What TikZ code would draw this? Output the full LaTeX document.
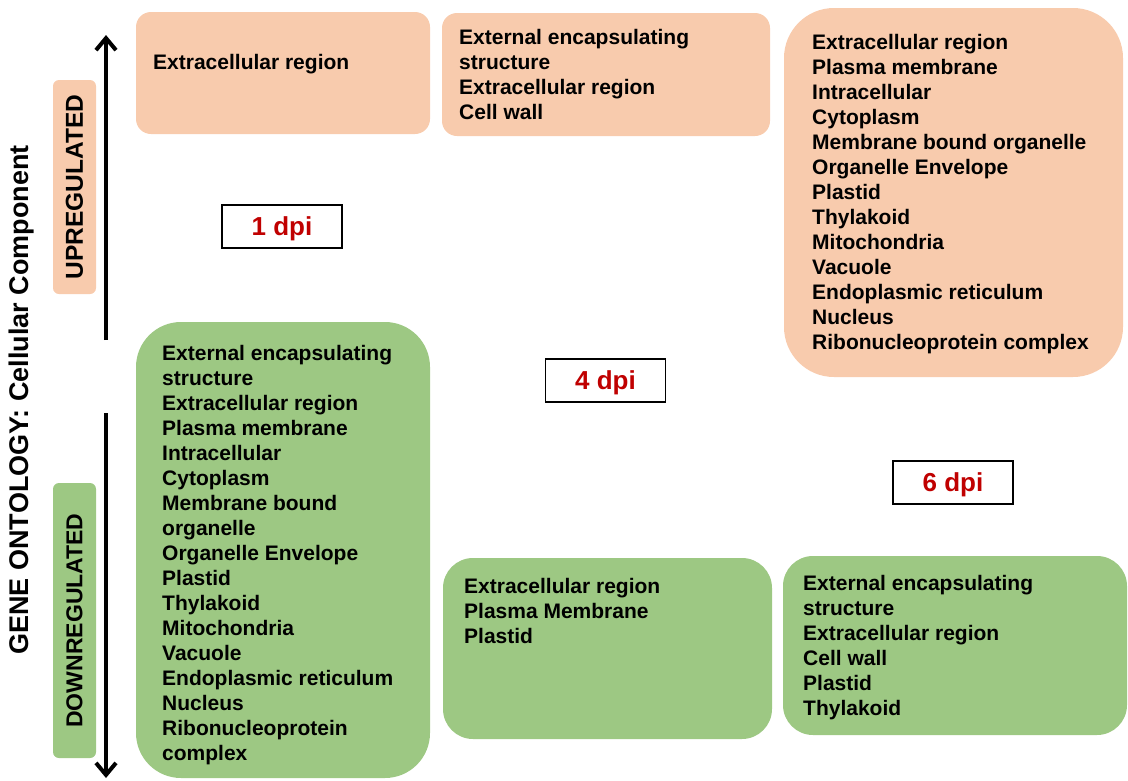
\documentclass[tikz,border=0pt]{standalone}
\usepackage{fontspec}
\setmainfont{Liberation Sans}
\usetikzlibrary{arrows.meta}
\definecolor{peach}{HTML}{F8CBAD}
\definecolor{leaf}{HTML}{9DC883}
\definecolor{dpired}{HTML}{C00000}
\tikzset{
  upbox/.style={fill=peach, draw=none, inner sep=0pt},
  downbox/.style={fill=leaf, draw=none, inner sep=0pt},
  golist/.style={anchor=north west, align=left, inner sep=0pt,
    font=\fontsize{21}{25}\selectfont\bfseries},
  dpibox/.style={draw=black, line width=1.1pt, fill=white, minimum width=120pt,
    minimum height=43pt, text=dpired, font=\fontsize{26}{30}\selectfont\bfseries},
  sidepill/.style={rounded corners=6pt, rotate=90, minimum height=43pt,
    font=\fontsize{23}{27}\selectfont\bfseries},
  vaxis/.style={line width=3.2pt, -{Straight Barb[length=12pt,width=20pt,line width=4pt]}}
}

\begin{document}
\begin{tikzpicture}[x=1pt, y=-1pt]
  \useasboundingbox (0,0) rectangle (1128,780);

  % boxes
  \node[upbox, rounded corners=15pt, minimum width=294pt, minimum height=122pt] (up1) at (283,73) {};
  \node[upbox, rounded corners=15pt, minimum width=328pt, minimum height=123pt] (up4) at (606,74.5) {};
  \node[upbox, rounded corners=50pt, minimum width=339pt, minimum height=369pt] (up6) at (953.5,192.5) {};
  \node[downbox, rounded corners=45pt, minimum width=294pt, minimum height=456pt] (down1) at (283,550) {};
  \node[downbox, rounded corners=30pt, minimum width=329pt, minimum height=181pt] (down4) at (607.5,648.5) {};
  \node[downbox, rounded corners=30pt, minimum width=344pt, minimum height=179pt] (down6) at (955,645.5) {};

  % lists
  \node[golist] (up1list) at (153,54) {Extracellular region};
  \node[golist] (up4list) at (459,29) {External encapsulating\\structure\\Extracellular region\\Cell wall};
  \node[golist] (up6list) at (812,34) {Extracellular region\\Plasma membrane\\Intracellular\\Cytoplasm\\Membrane bound organelle\\Organelle Envelope\\Plastid\\Thylakoid\\Mitochondria\\Vacuole\\Endoplasmic reticulum\\Nucleus\\Ribonucleoprotein complex};
  \node[golist] (down1list) at (162,345) {External encapsulating\\structure\\Extracellular region\\Plasma membrane\\Intracellular\\Cytoplasm\\Membrane bound\\organelle\\Organelle Envelope\\Plastid\\Thylakoid\\Mitochondria\\Vacuole\\Endoplasmic reticulum\\Nucleus\\Ribonucleoprotein\\complex};
  \node[golist] (down4list) at (464,578) {Extracellular region\\Plasma Membrane\\Plastid};
  \node[golist] (down6list) at (803,575) {External encapsulating\\structure\\Extracellular region\\Cell wall\\Plastid\\Thylakoid};

  % time points
  \node[dpibox, text depth=1pt] (dpi1) at (282,226.5) {1 dpi};
  \node[dpibox, text depth=1pt] (dpi4) at (605.5,380.5) {4 dpi};
  \node[dpibox, text depth=1pt] (dpi6) at (953,482.5) {6 dpi};

  % side labels
  \node[sidepill, fill=peach, minimum width=214pt, font=\fontsize{24.5}{28}\selectfont\bfseries] (uplabel) at (74.5,187) {UPREGULATED};
  \node[sidepill, fill=leaf, minimum width=275pt] (downlabel) at (74.5,620.5) {DOWNREGULATED};
  \node[rotate=90, font=\fontsize{27}{31}\selectfont\bfseries] (ontology) at (22,400) {GENE ONTOLOGY: Cellular Component};

  \coordinate (uptail) at (106,340);
  \coordinate (uptip) at (106,35);
  \coordinate (downtail) at (106,413);
  \coordinate (downtip) at (106,778);
  \draw[vaxis] (uptail) -- (uptip);
  \draw[vaxis] (downtail) -- (downtip);
\end{tikzpicture}
\end{document}
